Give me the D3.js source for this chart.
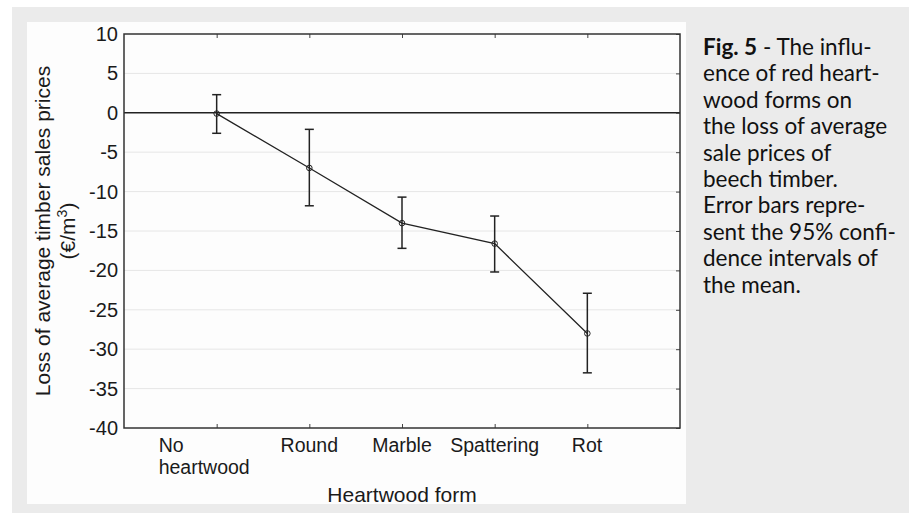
<!DOCTYPE html>
<html lang="en">
<head>
  <meta charset="UTF-8" />
  <title>Red heartwood forms and sale prices</title>
  <style>
    body { margin: 0; background: #fff; }
    svg { display: block; }
  </style>
</head>
<body>
  <div id="chart"></div>

  <script src="https://cdn.jsdelivr.net/npm/d3@7"></script>
  <script>
    // values (€/m3)
    const categories = ["No heartwood", "Round", "Marble", "Spattering", "Rot"];
    const means = [-0.1, -7.0, -14.0, -16.6, -28.0];
    const upper = [2.3, -2.1, -10.7, -13.1, -22.9];
    const lower = [-2.6, -11.8, -17.2, -20.2, -33.0];
    const yTicks = [10, 5, 0, -5, -10, -15, -20, -25, -30, -35, -40];
    const captionLines = [
      "- The influ-",
      "ence of red heart-",
      "wood forms on",
      "the loss of average",
      "sale prices of",
      "beech timber.",
      "Error bars repre-",
      "sent the 95% confi-",
      "dence intervals of",
      "the mean."
    ];

    const W = 909, H = 513;
    const plot = { left: 124, right: 680, top: 34, bottom: 428 };
    const font = "'Liberation Sans', Arial, sans-serif";

    const svg = d3.select("#chart").append("svg")
      .attr("width", W)
      .attr("height", H);

    // page backgrounds
    svg.append("rect").attr("x", 12).attr("y", 7)
      .attr("width", W - 12).attr("height", H - 7).attr("fill", "#ebebeb");
    svg.append("rect").attr("x", 27).attr("y", 22)
      .attr("width", 659).attr("height", 482).attr("fill", "#fdfdfd");

    const x = d3.scalePoint()
      .domain(categories)
      .range([plot.left, plot.right])
      .padding(1);

    const y = d3.scaleLinear()
      .domain([-40, 10])
      .range([plot.bottom, plot.top]);

    // grid lines
    svg.append("g")
      .selectAll("line")
      .data(yTicks.filter(d => d !== 10 && d !== -40))
      .join("line")
      .attr("x1", plot.left).attr("x2", plot.right)
      .attr("y1", d => y(d)).attr("y2", d => y(d))
      .attr("stroke", d => d === 0 ? "#222" : "#e6e6e6")
      .attr("stroke-width", d => d === 0 ? 1.4 : 1);

    // left axis with labels
    const yAxis = svg.append("g")
      .attr("transform", `translate(${plot.left},0)`)
      .call(d3.axisLeft(y).tickValues(yTicks).tickSize(0).tickPadding(6)
        .tickFormat(d => String(d)));
    yAxis.select(".domain").remove();
    yAxis.selectAll("text")
      .attr("font-family", font)
      .attr("font-size", 20)
      .attr("fill", "#1a1a1a");

    // right axis ticks pointing inward
    const yRight = svg.append("g")
      .attr("transform", `translate(${plot.right},0)`)
      .call(d3.axisRight(y).tickValues(yTicks).tickSize(-4).tickFormat(""));
    yRight.select(".domain").remove();
    yRight.selectAll("line").attr("stroke", "#444");

    // top and bottom category ticks pointing inward
    const xBottom = svg.append("g")
      .attr("transform", `translate(0,${plot.bottom})`)
      .call(d3.axisBottom(x).tickSize(-4).tickFormat(""));
    xBottom.select(".domain").remove();
    xBottom.selectAll("line").attr("stroke", "#444");

    const xTop = svg.append("g")
      .attr("transform", `translate(0,${plot.top})`)
      .call(d3.axisTop(x).tickSize(-4).tickFormat(""));
    xTop.select(".domain").remove();
    xTop.selectAll("line").attr("stroke", "#444");

    // frame
    svg.append("rect")
      .attr("x", plot.left).attr("y", plot.top)
      .attr("width", plot.right - plot.left)
      .attr("height", plot.bottom - plot.top)
      .attr("fill", "none")
      .attr("stroke", "#333")
      .attr("stroke-width", 1.5);

    // category labels
    const labels = svg.append("g")
      .attr("font-family", font)
      .attr("font-size", 19.5)
      .attr("fill", "#1a1a1a");
    categories.forEach(c => {
      const words = c === "No heartwood" ? ["No", "heartwood"] : [c];
      const t = labels.append("text").attr("y", 452);
      words.forEach((w, i) => {
        t.append("tspan").attr("dy", i ? 22 : 0).text(w);
      });
      const bb = t.node().getBBox();
      t.attr("x", x(c) - bb.width / 2).selectAll("tspan").attr("x", x(c) - bb.width / 2);
    });

    svg.append("text")
      .attr("x", (plot.left + plot.right) / 2)
      .attr("y", 502)
      .attr("text-anchor", "middle")
      .attr("font-family", font)
      .attr("font-size", 21)
      .attr("fill", "#1a1a1a")
      .text("Heartwood form");

    // y axis title
    const midY = (plot.top + plot.bottom) / 2;
    const yTitle = svg.append("text")
      .attr("transform", `translate(50,${midY}) rotate(-90)`)
      .attr("text-anchor", "middle")
      .attr("font-family", font)
      .attr("font-size", 21)
      .attr("fill", "#1a1a1a");
    yTitle.append("tspan").attr("x", 0).attr("y", 0).text("Loss of average timber sales prices");
    const unit = yTitle.append("tspan").attr("x", 0).attr("y", 25);
    unit.append("tspan").text("(€/m");
    unit.append("tspan").attr("dy", -8).attr("font-size", 14).text("3");
    unit.append("tspan").attr("dy", 8).text(")");

    // connecting line
    const pts = categories.map((c, i) => [x(c), y(means[i])]);
    svg.append("path")
      .attr("d", d3.line()(pts))
      .attr("fill", "none")
      .attr("stroke", "#222")
      .attr("stroke-width", 1.3);

    // error bars
    const bars = svg.append("g").attr("stroke", "#222").attr("stroke-width", 1.5);
    categories.forEach((c, i) => {
      const cx = x(c);
      bars.append("line").attr("x1", cx).attr("x2", cx)
        .attr("y1", y(upper[i])).attr("y2", y(lower[i]));
      bars.append("line").attr("x1", cx - 4.5).attr("x2", cx + 4.5)
        .attr("y1", y(upper[i])).attr("y2", y(upper[i]));
      bars.append("line").attr("x1", cx - 4.5).attr("x2", cx + 4.5)
        .attr("y1", y(lower[i])).attr("y2", y(lower[i]));
    });

    // markers
    svg.append("g")
      .selectAll("circle")
      .data(means)
      .join("circle")
      .attr("cx", (d, i) => x(categories[i]))
      .attr("cy", d => y(d))
      .attr("r", 2.8)
      .attr("fill", "none")
      .attr("stroke", "#222")
      .attr("stroke-width", 1);

    // caption
    const cap = svg.append("text")
      .attr("font-family", "Lato, 'Open Sans', sans-serif")
      .attr("font-size", 22.5)
      .attr("fill", "#111");
    captionLines.forEach((line, i) => {
      const t = cap.append("tspan").attr("x", 703).attr("y", 55 + i * 26.4);
      if (i === 0) {
        t.append("tspan").attr("font-weight", "bold").text("Fig. 5");
        t.append("tspan").text(" " + line);
      } else {
        t.text(line);
      }
    });
  </script>
</body>
</html>
